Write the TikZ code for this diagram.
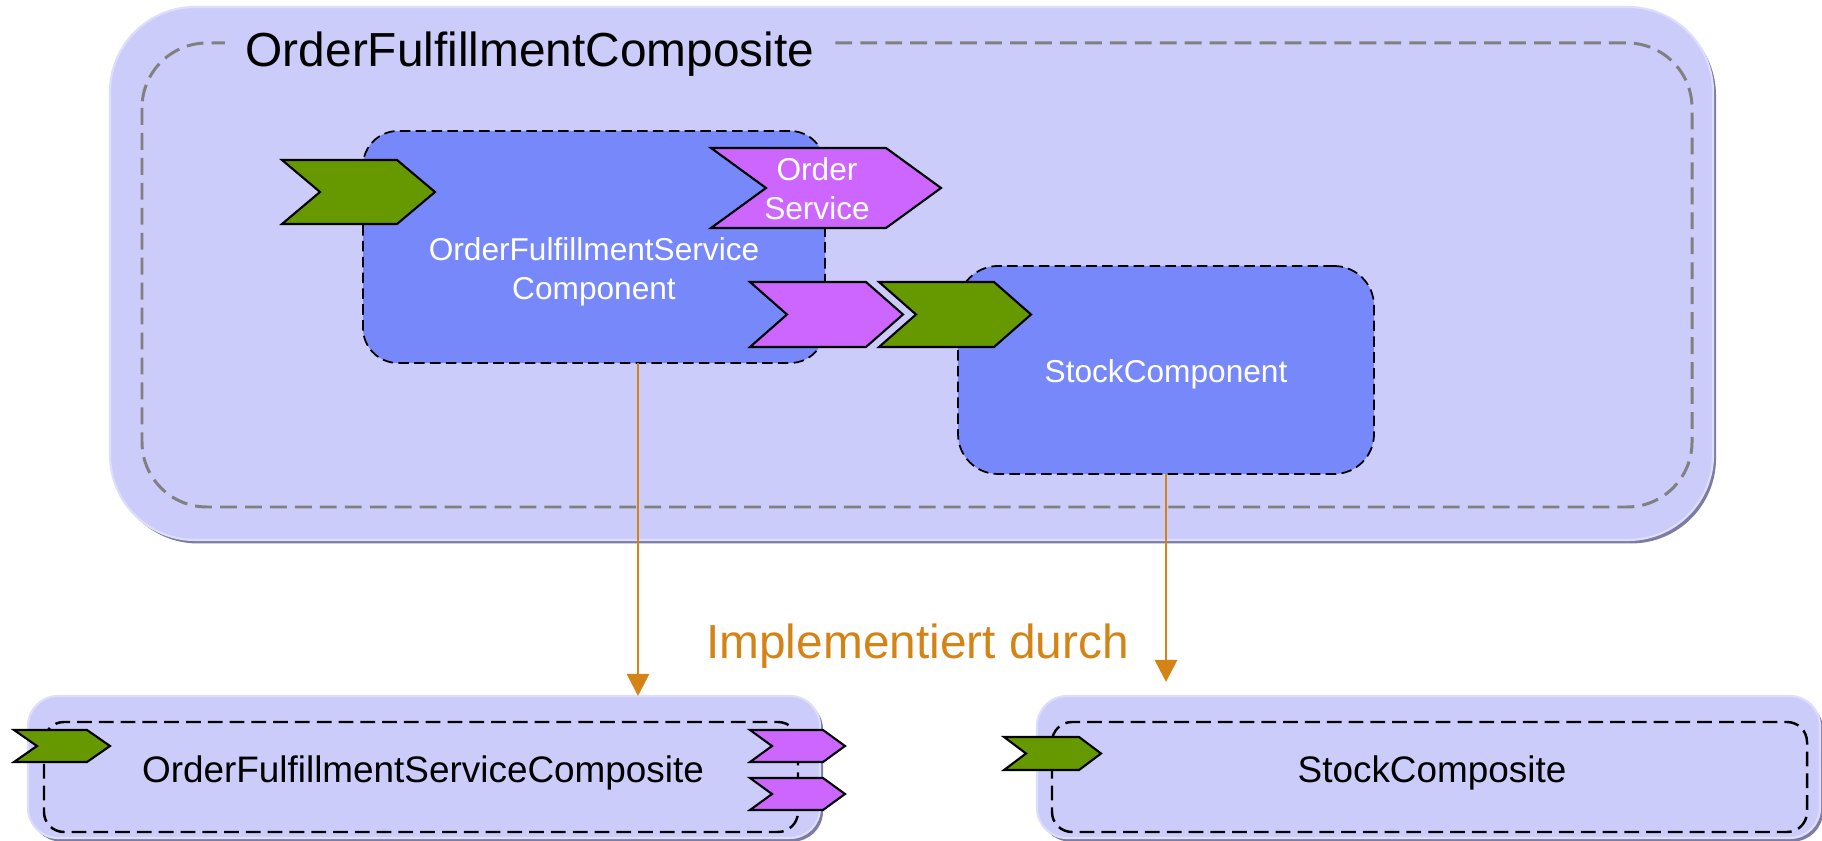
\documentclass[tikz,border=0pt]{standalone}
\usepackage{fontspec}
\setmainfont{Liberation Sans}
\usetikzlibrary{arrows.meta,shadows}

\definecolor{compositefill}{RGB}{204,204,250}
\definecolor{compositeedge}{RGB}{222,222,252}
\definecolor{compositeshade}{RGB}{124,124,164}
\definecolor{componentfill}{RGB}{119,136,250}
\definecolor{servicegreen}{RGB}{102,153,0}
\definecolor{refpurple}{RGB}{204,102,255}
\definecolor{implorange}{RGB}{212,132,22}

% chevron port: fill, left x, top y, width, height, tip depth
\newcommand{\chevronport}[6]{%
    \draw[port, fill=#1] (#2,#3) -- ++(#4-#6,0) -- ++(#6,-#5/2) -- ++(-#6,-#5/2)
        -- ++(-#4+#6,0) -- ++(#6,#5/2) -- cycle;
}

\begin{document}
\begin{tikzpicture}[
        composite/.style={rectangle, rounded corners=#1, fill=compositefill, draw=compositeedge,
            line width=0.6pt, inner sep=0pt, outer sep=0pt,
            drop shadow={shadow xshift=0.03cm, shadow yshift=-0.035cm, fill=compositeshade, opacity=1}},
        composite/.default=0.3cm,
        frame/.style={draw=gray, line width=0.85pt, dash pattern=on 4.8pt off 2.3pt, rounded corners=0.65cm},
        innerframe/.style={draw=black, line width=0.7pt, dash pattern=on 4.2pt off 2pt, rounded corners=0.2cm},
        component/.style={rectangle, rounded corners=#1, fill=componentfill, draw=black, line width=0.5pt,
            dash pattern=on 3pt off 1.5pt, inner sep=0pt, outer sep=0pt},
        component/.default=0.35cm,
        port/.style={draw=black, line width=0.6pt, line join=miter},
        comptext/.style={text=white, font=\fontsize{9}{11}\selectfont, align=center, inner sep=0pt},
        title/.style={font=\fontsize{13.6}{16}\selectfont, fill=compositefill, inner xsep=0.21cm, inner ysep=0.05cm},
        label/.style={font=\fontsize{10.5}{12.6}\selectfont, inner sep=0pt},
        impl/.style={-{Triangle[width=0.22cm,length=0.22cm]}, draw=implorange, line width=0.8pt}
    ]
        \useasboundingbox (0,0) rectangle (18.22,-8.41);

        % Outer composite with its dashed frame and title
        \node[composite=0.85cm, minimum width=16.03cm, minimum height=5.33cm] (ofcomp) at (9.115,-2.735) {};
        \draw[frame] (1.42,-0.43) rectangle (16.92,-5.07);
        \node[title, anchor=base] (oftitle) at (5.30,-0.67) {OrderFulfillmentComposite};

        % Components inside the composite
        \node[component, minimum width=4.62cm, minimum height=2.32cm] (ofsc) at (5.94,-2.47) {};
        \node[component=0.4cm, minimum width=4.16cm, minimum height=2.08cm] (stc) at (11.66,-3.70) {};

        % Services and references
        \chevronport{servicegreen}{2.82}{-1.60}{1.53}{0.64}{0.38}
        \chevronport{refpurple}{7.11}{-1.48}{2.30}{0.80}{0.55}
        \chevronport{refpurple}{7.50}{-2.82}{1.53}{0.65}{0.37}
        \chevronport{servicegreen}{8.79}{-2.82}{1.52}{0.65}{0.37}

        \node[comptext] (ofsctext) at (5.94,-2.72) {OrderFulfillmentService\\Component};
        \node[comptext] (stctext) at (11.66,-3.74) {StockComponent};
        \node[comptext] (ordersvc) at (8.17,-1.885) {Order\\Service};

        % Implementing composites
        \node[composite, minimum width=7.92cm, minimum height=1.42cm] (ofscomp) at (4.24,-7.67) {};
        \draw[innerframe] (0.44,-7.22) rectangle (7.98,-8.32);
        \chevronport{servicegreen}{0.14}{-7.30}{0.96}{0.32}{0.23}
        \foreach \y in {-7.30,-7.78} {
            \chevronport{refpurple}{7.50}{\y}{0.95}{0.32}{0.22}
        }
        \node[label] (ofscomptext) at (4.23,-7.73) {OrderFulfillmentServiceComposite};

        \node[composite, minimum width=7.83cm, minimum height=1.42cm] (stcomp) at (14.285,-7.67) {};
        \draw[innerframe] (10.52,-7.22) rectangle (18.07,-8.32);
        \chevronport{servicegreen}{10.04}{-7.37}{0.97}{0.33}{0.22}
        \node[label] (stcomptext) at (14.32,-7.73) {StockComposite};

        % Implementation links
        \draw[impl] ([xshift=0.44cm]ofsc.south) -- ([xshift=0.44cm]ofsc.south |- ofscomp.north);
        \draw[impl, shorten >=0.14cm] (stc.south) -- (stc.south |- stcomp.north);
        \node[text=implorange, font=\fontsize{13.6}{16}\selectfont, inner sep=0pt] (impltext) at (9.175,-6.465) {Implementiert durch};
    \end{tikzpicture}
\end{document}
